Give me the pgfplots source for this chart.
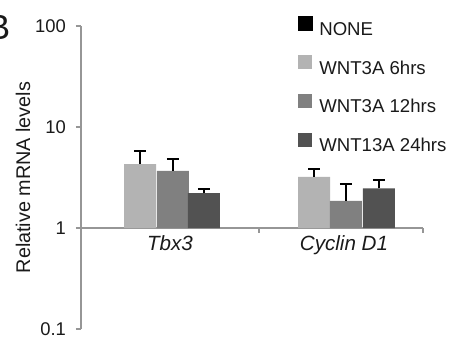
\documentclass[border=0pt]{standalone}
\usepackage{fontspec}
\setmainfont{Liberation Sans}
\usepackage{pgfplots}
\usepackage{pgfplotstable}
\pgfplotsset{compat=1.18}
\definecolor{cA}{HTML}{B3B3B3}
\definecolor{cB}{HTML}{808080}
\definecolor{cC}{HTML}{525252}
\definecolor{axgray}{HTML}{969696}
\definecolor{txt}{HTML}{1A1A1A}

% x: category position (Tbx3 = 0, Cyclin D1 = 1) plus bar offset
\pgfplotstableread{
x      y     e
-0.172 4.30  1.50
0.828  3.20  0.60
}\tblsix
\pgfplotstableread{
x      y     e
0.017  3.67  1.10
1.011  1.86  0.85
}\tbltwelve
\pgfplotstableread{
x      y     e
0.195  2.22  0.21
1.201  2.47  0.50
}\tbltwentyfour

\pgfplotsset{
  mybar/.style={ybar, bar shift=0pt, bar width=0.184, draw=none, fill=#1,
    legend image code/.code={\fill[##1] (0pt,-0.2pt) rectangle (7pt,6.8pt);},
    error bars/.cd, y dir=plus, y explicit,
    error bar style={line width=1pt, black},
    error mark options={rotate=90, mark size=3pt, line width=1pt, black}},
}

\begin{document}
\begin{tikzpicture}
\useasboundingbox (-40.5pt,-5pt) rectangle (184.5pt,164.5pt);
\begin{axis}[
  at={(0,0)}, anchor=south west,
  scale only axis, width=171pt, height=151.5pt,
  xmin=-0.5115, xmax=1.454,
  ymode=log, ymin=0.1, ymax=100,
  axis y line*=left, axis x line*=middle,
  axis line style={axgray, line width=1pt},
  ytick={0.1,1,10,100}, yticklabels={0.1,1,10,100}, yminorticks=false,
  tick align=outside, major tick length=2.5pt,
  tick style={axgray, line width=1pt},
  xtick={0.5115,1.454}, xticklabels={,},
  extra x ticks={0,1},
  extra x tick labels={\textit{Tbx3},\textit{Cyclin D1}},
  extra x tick style={major tick length=0pt, tick style={draw=none}},
  /pgf/number format/assume math mode=true,
  yticklabel style={font=\fontsize{9.2}{11}\selectfont, text=txt, xshift=-1.5pt},
  xticklabel style={font=\fontsize{10.3}{12}\selectfont, text=txt},
  every axis y label/.style={at={(axis description cs:-0.1696,0.5)}, rotate=90, anchor=center, font=\fontsize{9.9}{11}\selectfont, text=txt},
  ylabel={Relative mRNA levels},
  legend style={at={(axis description cs:0.632,1.033)}, anchor=north west,
    draw=none, fill=none, inner sep=0pt, row sep=8pt, column sep=3.5pt,
    font=\fontsize{9.3}{11}\selectfont, text=txt,
    nodes={inner sep=0pt, text height=7pt, text depth=2pt}},
  legend cell align=left,
  clip=false,
]
\addlegendimage{legend image code/.code={\fill[black] (0pt,-0.2pt) rectangle (7pt,6.8pt);}}
\addlegendentry{NONE}
\addplot[mybar=cA] table[x=x, y=y, y error=e] {\tblsix};
\addlegendentry{WNT3A 6hrs}
\addplot[mybar=cB] table[x=x, y=y, y error=e] {\tbltwelve};
\addlegendentry{WNT3A 12hrs}
\addplot[mybar=cC] table[x=x, y=y, y error=e] {\tbltwentyfour};
\addlegendentry{WNT13A 24hrs}
\end{axis}
\node[font=\fontsize{17.5}{20}\selectfont, text=txt, anchor=center] at (-41.25pt,150.75pt) {B};
\end{tikzpicture}
\end{document}
